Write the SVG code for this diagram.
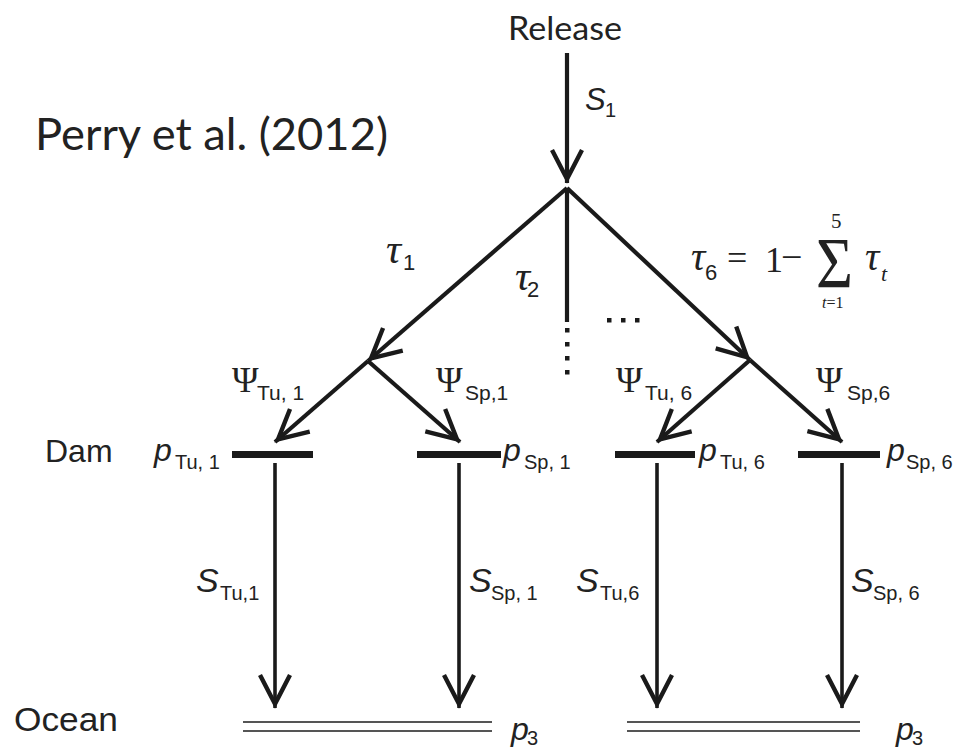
<svg xmlns="http://www.w3.org/2000/svg" width="973" height="750" viewBox="0 0 973 750">
<style>
.cal{font-family:Lato,"Open Sans",sans-serif;fill:#222}
.sans{font-family:"Liberation Sans",Arial,sans-serif;fill:#222}
.it{font-style:italic}
.ser{font-family:"Liberation Serif","Times New Roman",serif;fill:#222}
.sub{font-size:20px}
.psi{font-size:36px}
.ln{stroke:#1a1a1a;stroke-width:4.2;fill:none}
.lnv{stroke:#1a1a1a;stroke-width:3.6;fill:none}
.bar{fill:#1a1a1a}
.ocean{stroke:#555;stroke-width:2.2}
</style>
<defs>
<marker id="ah" markerUnits="userSpaceOnUse" markerWidth="60" markerHeight="60" viewBox="-40 -30 60 60" refX="0" refY="0" orient="auto" overflow="visible">
<path d="M-33,-15 L-4,0 L-33,15" fill="none" stroke="#1a1a1a" stroke-width="4.4" stroke-linejoin="miter" stroke-miterlimit="10"/>
</marker>
</defs>

<g id="title">
<text class="cal" x="35" y="150" font-size="44" textLength="353" lengthAdjust="spacingAndGlyphs">Perry et al. (2012)</text>
</g>

<g id="release">
<text class="cal" x="508" y="40" font-size="32" textLength="114" lengthAdjust="spacingAndGlyphs">Release</text>
</g>

<g id="connectors">
<line class="ln" x1="567" y1="53" x2="567" y2="183" marker-end="url(#ah)"/>
<line class="ln" x1="567" y1="188" x2="368" y2="361" marker-end="url(#ah)"/>
<line class="ln" x1="567" y1="188" x2="750" y2="360" marker-end="url(#ah)"/>
<line class="ln" x1="567" y1="188" x2="567" y2="322"/>
<line class="ln" x1="368" y1="361" x2="275" y2="442" marker-end="url(#ah)"/>
<line class="ln" x1="368" y1="361" x2="460" y2="442" marker-end="url(#ah)"/>
<line class="ln" x1="750" y1="360" x2="657" y2="442" marker-end="url(#ah)"/>
<line class="ln" x1="750" y1="360" x2="842" y2="442" marker-end="url(#ah)"/>
<line class="lnv" x1="275" y1="463" x2="275" y2="708" marker-end="url(#ah)"/>
<line class="lnv" x1="459" y1="463" x2="459" y2="708" marker-end="url(#ah)"/>
<line class="lnv" x1="657" y1="463" x2="657" y2="708" marker-end="url(#ah)"/>
<line class="lnv" x1="842" y1="463" x2="842" y2="708" marker-end="url(#ah)"/>
</g>

<g id="dots">
<rect class="bar" x="565" y="328" width="4.5" height="4.5"/>
<rect class="bar" x="565" y="342" width="4.5" height="4.5"/>
<rect class="bar" x="565" y="356" width="4.5" height="4.5"/>
<rect class="bar" x="565" y="370" width="4.5" height="4.5"/>
<rect class="bar" x="607" y="318" width="4.5" height="4.5"/>
<rect class="bar" x="621" y="318" width="4.5" height="4.5"/>
<rect class="bar" x="635" y="318" width="4.5" height="4.5"/>
</g>

<g id="s1-label">
<text class="sans it" x="585" y="110" font-size="31">S</text>
<text class="sans sub" x="605" y="117">1</text>
</g>

<g id="tau-labels">
<text class="ser it" x="386" y="263" font-size="42">τ</text>
<text class="sans" x="403" y="270" font-size="22">1</text>
<text class="ser it" x="515" y="290" font-size="42">τ</text>
<text class="sans" x="527" y="297" font-size="22">2</text>
<text class="ser it" x="691" y="270" font-size="40">τ</text>
<text class="sans" x="705" y="280" font-size="22">6</text>
<text class="ser" x="727" y="270" font-size="36">=</text>
<text class="ser" x="765" y="272" font-size="36">1</text>
<text class="ser" x="781" y="270" font-size="38">−</text>
<text class="ser" x="816" y="287" font-size="72" textLength="37" lengthAdjust="spacingAndGlyphs">Σ</text>
<text class="ser" x="831" y="228" font-size="21">5</text>
<text class="ser" x="822" y="308" font-size="16"><tspan font-style="italic">t</tspan>=1</text>
<text class="ser it" x="865" y="270" font-size="40">τ</text>
<text class="ser it" x="881" y="281" font-size="22">t</text>
</g>

<g id="psi-labels">
<text class="ser psi" x="232" y="392">Ψ</text>
<text class="sans" x="257" y="400" font-size="21">Tu, 1</text>
<text class="ser psi" x="436" y="392">Ψ</text>
<text class="sans" x="465" y="400" font-size="21">Sp,1</text>
<text class="ser psi" x="616" y="392">Ψ</text>
<text class="sans" x="645" y="400" font-size="21">Tu, 6</text>
<text class="ser psi" x="816" y="392">Ψ</text>
<text class="sans" x="847" y="400" font-size="21">Sp,6</text>
</g>

<g id="dam">
<text class="sans" x="45" y="462" font-size="32">Dam</text>
<rect class="bar" x="232" y="451" width="81" height="7"/>
<rect class="bar" x="417" y="451" width="84" height="7"/>
<rect class="bar" x="615" y="451" width="80" height="7"/>
<rect class="bar" x="798" y="451" width="82" height="7"/>
<text class="sans it" x="154" y="461" font-size="32">p</text>
<text class="sans sub" x="175" y="469">Tu, 1</text>
<text class="sans it" x="503" y="461" font-size="32">p</text>
<text class="sans sub" x="524" y="469">Sp, 1</text>
<text class="sans it" x="699" y="461" font-size="32">p</text>
<text class="sans sub" x="720" y="469">Tu, 6</text>
<text class="sans it" x="887" y="461" font-size="32">p</text>
<text class="sans sub" x="906" y="469">Sp, 6</text>
</g>

<g id="survival-labels">
<text class="sans it" x="196" y="592" font-size="34">S</text>
<text class="sans sub" x="220" y="600">Tu,1</text>
<text class="sans it" x="469" y="592" font-size="34">S</text>
<text class="sans sub" x="491" y="600">Sp, 1</text>
<text class="sans it" x="576" y="592" font-size="34">S</text>
<text class="sans sub" x="600" y="600">Tu,6</text>
<text class="sans it" x="851" y="592" font-size="34">S</text>
<text class="sans sub" x="873" y="600">Sp, 6</text>
</g>

<g id="ocean">
<text class="sans" x="14" y="731" font-size="33" textLength="104" lengthAdjust="spacingAndGlyphs">Ocean</text>
<line class="ocean" x1="243" y1="722" x2="492" y2="722"/>
<line class="ocean" x1="243" y1="731" x2="492" y2="731"/>
<line class="ocean" x1="627" y1="722" x2="860" y2="722"/>
<line class="ocean" x1="627" y1="731" x2="860" y2="731"/>
<text class="sans it" x="511" y="740" font-size="32">p</text>
<text class="sans sub" x="527" y="745">3</text>
<text class="sans it" x="896" y="740" font-size="32">p</text>
<text class="sans sub" x="912" y="745">3</text>
</g>
</svg>
